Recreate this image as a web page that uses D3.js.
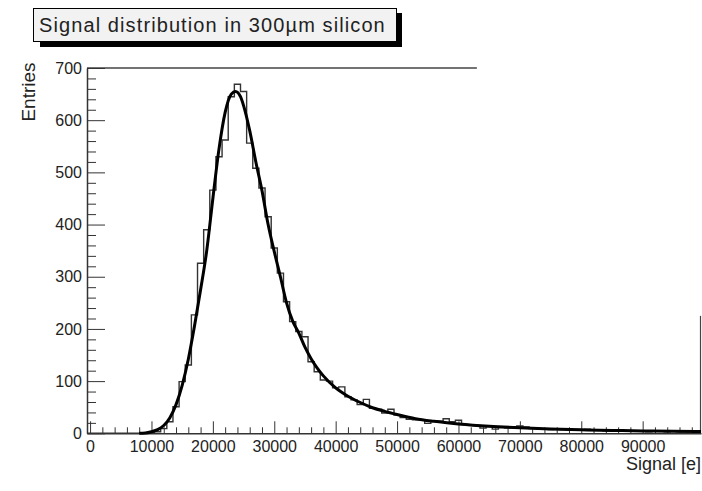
<!DOCTYPE html>
<html lang="en">
<head>
  <meta charset="utf-8">
  <title>Signal distribution in 300µm silicon</title>
  <script src="https://d3js.org/d3.v7.min.js"></script>
  <style>
    body {
      margin: 0;
      background: #fff;
      font-family: "Liberation Sans", Arial, sans-serif;
    }
    .tick text { fill: #222; }
  </style>
</head>
<body>
<div id="vis"></div>

<script>
// histogram: 100 bins of 1000 e, first bin centred on 0
const binStart = -500;
const binWidth = 1000;
const counts = [
  0, 0, 0, 0, 0, 0, 0, 0, 0, 0,
  1, 3, 9, 22, 51, 99, 131, 227, 326, 390,
  466, 530, 562, 645, 669, 655, 556, 508, 470, 415,
  355, 307, 252, 214, 195, 185, 137, 118, 102, 100,
  87, 89, 70, 64, 55, 65, 48, 46, 39, 46,
  35, 30, 27, 26, 26, 19, 24, 23, 28, 22,
  25, 17, 16, 15, 10, 13, 8, 11, 10, 12,
  14, 12, 9, 8, 8, 7, 8, 7, 6, 7,
  6, 8, 6, 6, 5, 5, 4, 5, 5, 4,
  5, 3, 4, 4, 3, 4, 3, 3, 4, 4
];

// fitted landau x gauss
const fitX = [8000, 9000, 10000, 11000, 12000, 13000, 14000, 15000, 16000, 17000,
  18000, 19000, 20000, 21000, 22000, 23000, 23700, 24500, 25000, 26000,
  27000, 28000, 29000, 30000, 31000, 32000, 33000, 34000, 35000, 36000,
  37000, 38000, 40000, 42000, 44000, 46000, 48000, 50000, 53000, 56000,
  60000, 65000, 70000, 75000, 80000, 85000, 90000, 95000, 99500];
const fitY = [0, 0.5, 3, 7, 15, 30, 55, 92, 142, 205,
  275, 350, 450, 545, 615, 650, 655, 645, 628, 580,
  520, 465, 400, 348, 300, 250, 215, 192, 165, 143,
  125, 110, 87, 71, 59, 49, 42, 36, 28, 23,
  18, 13.5, 10.5, 8.3, 6.8, 5.6, 4.6, 3.9, 3.4];

// axis ticks
const xMajor = [0, 10000, 20000, 30000, 40000, 50000, 60000, 70000, 80000, 90000];
const yMajor = [0, 100, 200, 300, 400, 500, 600, 700];

const width = 702;
const height = 491;

const svg = d3.select('#vis')
  .append('svg')
  .attr('width', width)
  .attr('height', height);

const x = d3.scaleLinear()
  .domain([binStart, binStart + counts.length * binWidth])
  .range([87, 701]);

const y = d3.scaleLinear()
  .domain([0, 700])
  .range([433.3, 68]);

// title box with shadow
svg.append('rect')
  .attr('x', 40).attr('y', 13)
  .attr('width', 362).attr('height', 34)
  .attr('fill', '#000');
svg.append('rect')
  .attr('x', 33.5).attr('y', 8.5)
  .attr('width', 363).attr('height', 33)
  .attr('fill', '#f2f2f2')
  .attr('stroke', '#000')
  .attr('stroke-width', 1);
svg.append('text')
  .attr('x', 39).attr('y', 32)
  .attr('font-size', 20)
  .attr('letter-spacing', 1.1)
  .attr('fill', '#222')
  .text('Signal distribution in 300µm silicon');

// partial frame lines
svg.append('line')
  .attr('x1', x.range()[0]).attr('x2', x(63000))
  .attr('y1', y(700)).attr('y2', y(700))
  .attr('stroke', '#444').attr('stroke-width', 1.5);
svg.append('line')
  .attr('x1', 700.5).attr('x2', 700.5)
  .attr('y1', y(225)).attr('y2', y(0))
  .attr('stroke', '#444').attr('stroke-width', 1.2);

// minor ticks first, majors on top
const xMinor = d3.range(0, 100000, 2000).filter(v => v % 10000 !== 0);
const yMinor = d3.range(0, 700, 20).filter(v => v % 100 !== 0);

svg.append('g')
  .attr('transform', `translate(0,${y(0)})`)
  .call(d3.axisBottom(x).tickValues(xMinor).tickSizeInner(-6).tickSizeOuter(0).tickFormat(''))
  .call(g => g.select('.domain').remove())
  .call(g => g.selectAll('line').attr('stroke', '#333'));

svg.append('g')
  .attr('transform', `translate(${x.range()[0]},0)`)
  .call(d3.axisLeft(y).tickValues(yMinor).tickSizeInner(-9).tickSizeOuter(0).tickFormat(''))
  .call(g => g.select('.domain').remove())
  .call(g => g.selectAll('line').attr('stroke', '#333'));

const xAxis = svg.append('g')
  .attr('transform', `translate(0,${y(0)})`)
  .call(d3.axisBottom(x).tickValues(xMajor).tickSizeInner(-12).tickSizeOuter(0).tickPadding(7).tickFormat(d3.format('d')));
xAxis.select('.domain').attr('stroke', '#333').attr('stroke-width', 1.5);
xAxis.selectAll('line').attr('stroke', '#333');
xAxis.selectAll('text')
  .attr('font-size', 16)
  .attr('font-family', '"Liberation Sans", Arial, sans-serif');

const yAxis = svg.append('g')
  .attr('transform', `translate(${x.range()[0]},0)`)
  .call(d3.axisLeft(y).tickValues(yMajor).tickSizeInner(-18).tickSizeOuter(0).tickPadding(5));
yAxis.select('.domain').attr('stroke', '#333').attr('stroke-width', 1.5);
yAxis.selectAll('line').attr('stroke', '#333');
yAxis.selectAll('text')
  .attr('font-size', 16)
  .attr('font-family', '"Liberation Sans", Arial, sans-serif');

// axis titles
svg.append('text')
  .attr('transform', `translate(35,${y(700) + 24}) rotate(-90)`)
  .attr('text-anchor', 'middle')
  .attr('font-size', 19)
  .attr('fill', '#222')
  .text('Entries');

svg.append('text')
  .attr('x', 701).attr('y', 470)
  .attr('text-anchor', 'end')
  .attr('font-size', 18)
  .attr('fill', '#222')
  .text('Signal [e]');

// histogram outline as steps
const steps = [];
counts.forEach((c, i) => {
  const lo = binStart + i * binWidth;
  steps.push([lo, c], [lo + binWidth, c]);
});

const stepLine = d3.line()
  .x(d => x(d[0]))
  .y(d => y(d[1]));

svg.append('path')
  .datum(steps)
  .attr('d', stepLine)
  .attr('fill', 'none')
  .attr('stroke', '#333')
  .attr('stroke-width', 1.4);

// fit curve
const fitLine = d3.line()
  .x((d, i) => x(fitX[i]))
  .y(d => y(d))
  .curve(d3.curveMonotoneX);

svg.append('path')
  .datum(fitY)
  .attr('d', fitLine)
  .attr('fill', 'none')
  .attr('stroke', '#000')
  .attr('stroke-width', 3);
</script>
</body>
</html>
